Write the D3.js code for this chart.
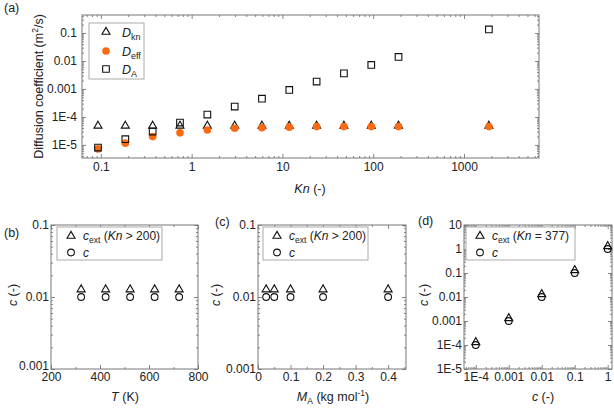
<!DOCTYPE html>
<html><head><meta charset="utf-8">
<script src="https://cdn.jsdelivr.net/npm/d3@7"></script>
<style>
body{margin:0;background:#fff;}
text{font-family:"Liberation Sans",Arial,sans-serif;fill:#222;}
</style></head>
<body><svg id="c" width="614" height="410"></svg>
<script>
// ---- data ----
const Kn   = [0.093, 0.186, 0.372, 0.744, 1.49, 2.98, 5.95, 11.9, 23.8, 47.6, 95.2, 190, 1880];
const Dkn  = [4.8e-5, 4.8e-5, 4.8e-5, 4.8e-5, 4.8e-5, 4.8e-5, 4.8e-5, 4.8e-5, 4.8e-5, 4.8e-5, 4.8e-5, 4.8e-5, 4.8e-5];
const Deff = [7.2e-6, 1.15e-5, 1.98e-5, 2.7e-5, 3.4e-5, 3.95e-5, 4.1e-5, 4.3e-5, 4.5e-5, 4.5e-5, 4.5e-5, 4.5e-5, 4.5e-5];
const DA   = [8.0e-6, 1.6e-5, 3.0e-5, 6.3e-5, 1.21e-4, 2.34e-4, 4.5e-4, 9.2e-4, 1.83e-3, 3.6e-3, 7.2e-3, 0.0139, 0.134];

const T_K     = [323, 423, 523, 623, 723];
const cExt_T  = [0.0127, 0.0127, 0.0127, 0.0127, 0.0127];
const c_T     = [0.01, 0.01, 0.01, 0.01, 0.01];

const MA      = [0.025, 0.05, 0.1, 0.2, 0.4];
const cExt_M  = [0.0127, 0.0127, 0.0127, 0.0127, 0.0127];
const c_M     = [0.01, 0.01, 0.01, 0.01, 0.01];

const cIn     = [1e-4, 0.001, 0.01, 0.1, 1];
const cExt_c  = [1.3e-4, 1.3e-3, 0.013, 0.13, 1.3];
const c_c     = [1e-4, 0.001, 0.01, 0.1, 1];

const logTicksA_x = [0.1, 1, 10, 100, 1000];
const logTicksA_y = [1e-5, 1e-4, 0.001, 0.01, 0.1];
const ticksB_x = [200, 400, 600, 800];
const ticksBC_y = [0.001, 0.01, 0.1];
const ticksC_x = [0, 0.1, 0.2, 0.3, 0.4];
const ticksD_x = [1e-4, 0.001, 0.01, 0.1, 1];
const ticksD_y = [1e-5, 1e-4, 0.001, 0.01, 0.1, 1, 10];

const ORANGE = "#fa6a12";
const svg = d3.select("#c");

function fmtLog(v){
  if (v >= 1e-3) return String(+v.toPrecision(3));
  const e = Math.round(Math.log10(v));
  return "1E" + e;
}
function logMinor(domain){
  const out=[]; const lo=Math.floor(Math.log10(domain[0])), hi=Math.ceil(Math.log10(domain[1]));
  for(let e=lo;e<=hi;e++) for(let k=2;k<=9;k++){const v=k*Math.pow(10,e); if(v>=domain[0]&&v<=domain[1]) out.push(v);}
  return out;
}

function panel(o){
  const {L,T,R,B} = o;
  const g = svg.append("g");
  const x = o.x.range([L,R]), y = o.y.range([B,T]);
  const tickCol = "#666";
  function addAxis(axis, tx, ty, withLabels){
    const a = g.append("g").attr("transform",`translate(${tx},${ty})`).call(axis);
    a.select(".domain").remove();
    a.selectAll("line").attr("stroke",tickCol).attr("stroke-width",0.8);
    a.selectAll("text").attr("fill","#222").style("font-size","12px").attr("font-family","Liberation Sans, Arial, sans-serif");
    if(!withLabels) a.selectAll("text").remove();
    return a;
  }
  addAxis(d3.axisBottom(x).tickValues(o.xMajor).tickSizeInner(-4).tickSizeOuter(0).tickPadding(o.xPad).tickFormat(o.xFmt), 0, B, true);
  addAxis(d3.axisBottom(x).tickValues(o.xMinor).tickSizeInner(-2).tickSizeOuter(0).tickFormat(""), 0, B, false);
  addAxis(d3.axisTop(x).tickValues(o.xMajor).tickSizeInner(-4).tickSizeOuter(0).tickFormat(""), 0, T, false);
  addAxis(d3.axisTop(x).tickValues(o.xMinor).tickSizeInner(-2).tickSizeOuter(0).tickFormat(""), 0, T, false);
  const ya = addAxis(d3.axisLeft(y).tickValues(o.yMajor).tickSizeInner(-4).tickSizeOuter(0).tickPadding(o.yPad).tickFormat(o.yFmt), L, 0, true);
  if(o.lowShift) ya.selectAll("text").filter(d=>d===o.yMajor[0]).attr("dy","0.05em");
  addAxis(d3.axisLeft(y).tickValues(o.yMinor).tickSizeInner(-2).tickSizeOuter(0).tickFormat(""), L, 0, false);
  addAxis(d3.axisRight(y).tickValues(o.yMajor).tickSizeInner(-4).tickSizeOuter(0).tickFormat(""), R, 0, false);
  addAxis(d3.axisRight(y).tickValues(o.yMinor).tickSizeInner(-2).tickSizeOuter(0).tickFormat(""), R, 0, false);
  g.append("rect").attr("x",L).attr("y",T).attr("width",R-L).attr("height",B-T)
    .attr("fill","none").attr("stroke","#777").attr("stroke-width",1);
  return {g,x,y};
}

const sym = (type,size)=>d3.symbol().type(type).size(size)();
function styleSym(sel,kind){
  if(kind==="tri") sel.attr("d",sym(d3.symbolTriangle,28)).attr("fill","none").attr("stroke","#111").attr("stroke-width",1.1);
  if(kind==="circ") sel.attr("d",sym(d3.symbolCircle,36)).attr("fill","none").attr("stroke","#111").attr("stroke-width",1.1);
  if(kind==="sq") sel.attr("d",sym(d3.symbolSquare,44)).attr("fill","none").attr("stroke","#111").attr("stroke-width",1.1);
  if(kind==="dot") sel.attr("d",sym(d3.symbolCircle,46)).attr("fill",ORANGE).attr("stroke","none");
}
function drawPts(g,x,y,xs,ys,kind){
  const sel = g.append("g").selectAll("path").data(xs.map((v,i)=>[v,ys[i]])).join("path")
    .attr("transform",d=>`translate(${x(d[0])},${y(d[1])})`);
  styleSym(sel,kind);
}
function legSym(g,kind,cx,cy){
  styleSym(g.append("path").attr("transform",`translate(${cx},${cy})`),kind);
}
function label(txt,x,y){ svg.append("text").attr("x",x).attr("y",y).style("font-size","12.5px").text(txt); }

// ---- panel (a) ----
{
  const xd=[0.062,6700], yd=[3.4e-6,0.44];
  const {g,x,y} = panel({L:82,T:15,R:539,B:158,
    x:d3.scaleLog().domain(xd), y:d3.scaleLog().domain(yd),
    xMajor:logTicksA_x, xMinor:logMinor(xd), yMajor:logTicksA_y, yMinor:logMinor(yd),
    xFmt:fmtLog, yFmt:fmtLog, xPad:4.5, yPad:5});
  drawPts(g,x,y,Kn,Dkn,"tri");
  drawPts(g,x,y,Kn,Deff,"dot");
  drawPts(g,x,y,Kn,DA,"sq");
  const lg = g.append("g");
  lg.append("rect").attr("x",89).attr("y",23).attr("width",55).attr("height",56).attr("fill","#fff").attr("stroke","#aaa");
  const ent=[["tri","kn",32],["dot","eff",51],["sq","A",69]];
  ent.forEach(([k,s,yy])=>{
    legSym(lg,k,106,yy);
    const t=lg.append("text").attr("x",122).attr("y",yy+4.5).style("font-size","12.5px");
    t.append("tspan").attr("font-style","italic").text("D");
    t.append("tspan").attr("dy",3).style("font-size","9px").text(s);
  });
  svg.append("text").attr("transform","translate(43,86.5) rotate(-90)").attr("text-anchor","middle").style("font-size","12.5px")
    .html('Diffusion coefficient (m<tspan dy="-5" style="font-size:8.5px">2</tspan><tspan dy="5">/s)</tspan>');
  const xt = svg.append("text").attr("x",310).attr("y",193).attr("text-anchor","middle").style("font-size","12.5px");
  xt.append("tspan").attr("font-style","italic").text("Kn");
  xt.append("tspan").text(" (-)");
  label("(a)",4,12);
}

function cLegend(g,L0,text2){
  g.append("rect").attr("x",L0).attr("y",227).attr("width",text2?109:105).attr("height",33).attr("fill","#fff").attr("stroke","#aaa");
  legSym(g,"tri",L0+14,236);
  legSym(g,"circ",L0+14,252.5);
  const t=g.append("text").attr("x",L0+26).attr("y",240).style("font-size","12px");
  t.append("tspan").attr("font-style","italic").text("c");
  t.append("tspan").attr("dy",3).style("font-size","8.5px").text("ext");
  t.append("tspan").attr("dy",-3).text(" (");
  t.append("tspan").attr("font-style","italic").text("Kn");
  t.append("tspan").text(text2 || " > 200)");
  g.append("text").attr("x",L0+26).attr("y",256.5).style("font-size","12px").attr("font-style","italic").text("c");
}
function cYTitle(cx,cy){
  const t=svg.append("text").attr("transform",`translate(${cx},${cy}) rotate(-90)`).attr("text-anchor","middle").style("font-size","12.5px");
  t.append("tspan").attr("font-style","italic").text("c");
  t.append("tspan").text(" (-)");
}

// ---- panel (b) ----
{
  const yd=[0.001,0.1];
  const {g,x,y}=panel({L:51,T:225,R:198,B:369,
    x:d3.scaleLinear().domain([200,800]), y:d3.scaleLog().domain(yd),
    xMajor:ticksB_x, xMinor:[300,500,700], yMajor:ticksBC_y, yMinor:logMinor(yd),
    xFmt:d3.format("d"), yFmt:fmtLog, xPad:3.5, yPad:2, lowShift:true});
  drawPts(g,x,y,T_K,cExt_T,"tri");
  drawPts(g,x,y,T_K,c_T,"circ");
  cLegend(g,57);
  cYTitle(17,295);
  const xt=svg.append("text").attr("x",125).attr("y",401).attr("text-anchor","middle").style("font-size","12.5px");
  xt.append("tspan").attr("font-style","italic").text("T");
  xt.append("tspan").text(" (K)");
  label("(b)",4,237);
}
// ---- panel (c) ----
{
  const yd=[0.001,0.1];
  const {g,x,y}=panel({L:258,T:225,R:406,B:369,
    x:d3.scaleLinear().domain([0,0.455]), y:d3.scaleLog().domain(yd),
    xMajor:ticksC_x, xMinor:[0.05,0.15,0.25,0.35,0.45], yMajor:ticksBC_y, yMinor:logMinor(yd),
    xFmt:d3.format(".1~f"), yFmt:fmtLog, xPad:3.5, yPad:2});
  drawPts(g,x,y,MA,cExt_M,"tri");
  drawPts(g,x,y,MA,c_M,"circ");
  cLegend(g,263);
  cYTitle(220,295);
  const xt=svg.append("text").attr("x",333).attr("y",401).attr("text-anchor","middle").style("font-size","12.5px");
  xt.append("tspan").attr("font-style","italic").text("M");
  xt.append("tspan").attr("dy",3).style("font-size","8.5px").text("A");
  xt.append("tspan").attr("dy",-3).text(" (kg mol");
  xt.append("tspan").attr("dy",-5).style("font-size","8.5px").text("-1");
  xt.append("tspan").attr("dy",5).text(")");
  label("(c)",215,226);
}
// ---- panel (d) ----
{
  const xd=[4.4e-5,1.35], yd=[1e-5,10];
  const {g,x,y}=panel({L:464,T:225,R:612,B:369,
    x:d3.scaleLog().domain(xd), y:d3.scaleLog().domain(yd),
    xMajor:ticksD_x, xMinor:logMinor(xd), yMajor:ticksD_y, yMinor:logMinor(yd),
    xFmt:fmtLog, yFmt:fmtLog, xPad:3.5, yPad:2});
  drawPts(g,x,y,cIn,cExt_c,"tri");
  drawPts(g,x,y,cIn,c_c,"circ");
  cLegend(g,466," = 377)");
  cYTitle(428,295);
  const xt=svg.append("text").attr("x",543).attr("y",401).attr("text-anchor","middle").style("font-size","12.5px");
  xt.append("tspan").attr("font-style","italic").text("c");
  xt.append("tspan").text(" (-)");
  label("(d)",418,225);
}
</script></body></html>
